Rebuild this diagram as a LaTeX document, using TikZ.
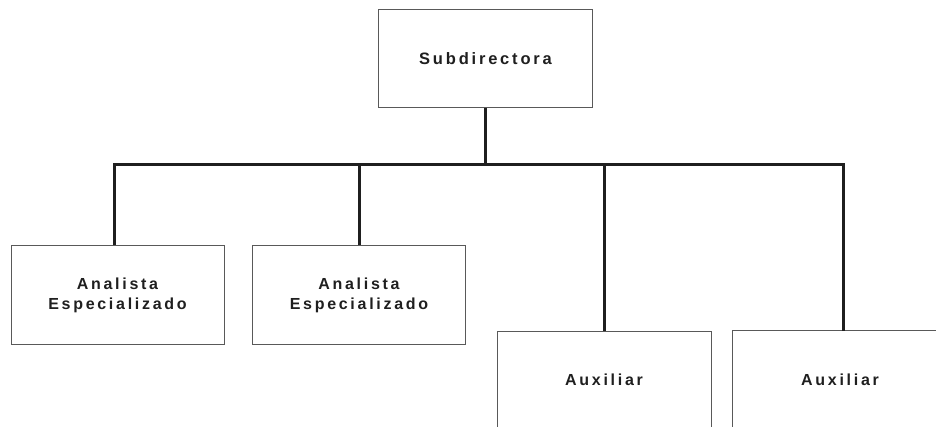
\documentclass[tikz,border=0pt]{standalone}
\usepackage{fontspec}
\setmainfont{Liberation Sans}
\newfontfamily\labfont[LetterSpace=17]{Liberation Sans}
\begin{document}
\begin{tikzpicture}[x=1pt,y=-1pt,
  box/.style={draw=black!65,line width=1pt,fill=white,minimum width=213pt,minimum height=98pt,
    inner sep=0pt,align=center,text=black!88,font=\labfont\bfseries\fontsize{16}{20}\selectfont},
  edge/.style={draw=black!65,line width=1pt},
  conn/.style={draw=black!88,line width=3pt}]
\useasboundingbox (0,0) rectangle (936,427);
\clip (0,0) rectangle (936,427);
\node[box,minimum width=214pt,font=\labfont\bfseries\fontsize{16.5}{20}\selectfont] (top) at (485.5,59) {Subdirectora};
\node[box] (a1) at (117.5,295) {Analista\\Especializado};
\node[box] (a2) at (359,295) {Analista\\Especializado};
\node[box,minimum width=214pt] (x1) at (604,380) {Auxiliar};
\node[box,draw=none,minimum width=214pt] (x2) at (840,380) {Auxiliar};
\draw[edge] (x2.south west) -- (x2.north west) -- (x2.north east);
\coordinate (bus) at (486,165);
\draw[conn] (top.south) -- (top.south |- bus);
\draw[conn] ([xshift=-3pt]a1.north) -- ([xshift=-3pt]a1.north |- bus) -- ([xshift=3pt]x2.north |- bus) -- ([xshift=3pt]x2.north);
\draw[conn] (a2.north) -- (a2.north |- bus);
\draw[conn] (x1.north) -- (x1.north |- bus);
\end{tikzpicture}
\end{document}
